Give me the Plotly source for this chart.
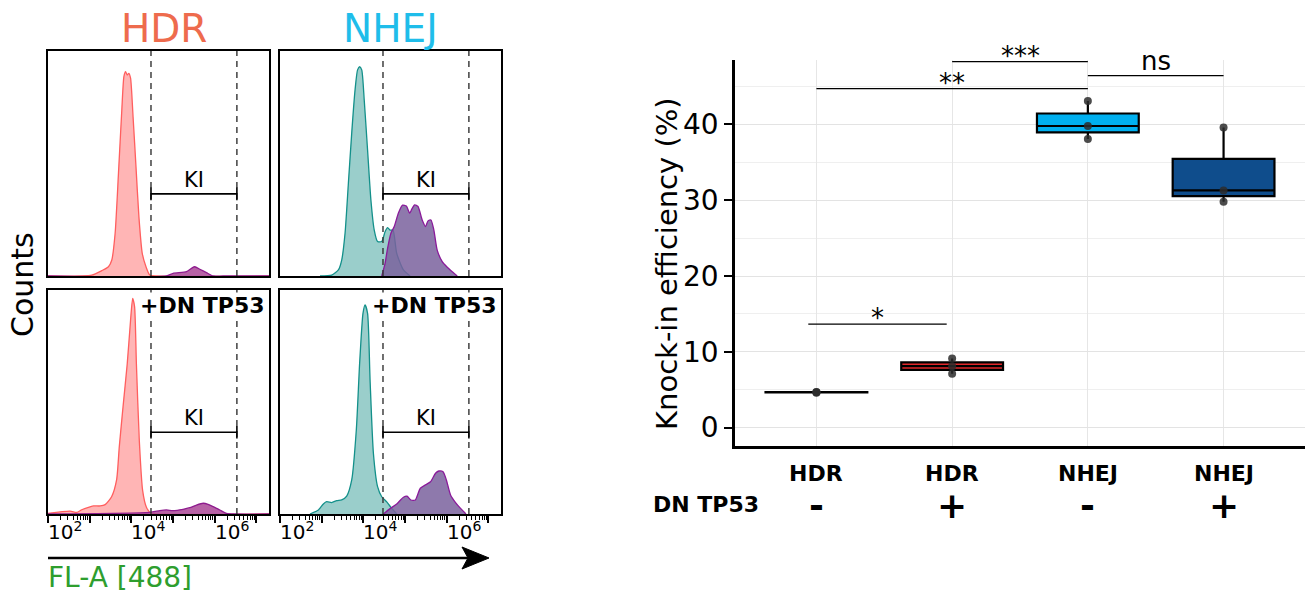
import numpy as np
import plotly.graph_objects as go

W, H = 1309, 598

# ---------------- Flow histograms (x = log10 FL-A [488], y = relative counts) ----------------
hdr_neg_logx = [2.0, 3.05, 3.29, 3.45, 3.53, 3.61, 3.69, 3.77, 3.82, 3.86, 3.90, 3.94, 3.98, 4.04, 4.11, 4.18, 4.26, 4.35, 4.44, 4.6, 7.3]
hdr_neg_cnt = [0, 0.4, 2.4, 4.1, 7.1, 19, 45.6, 73.8, 88.6, 90.8, 89.3, 90.1, 87.9, 70.8, 48.6, 26.4, 10.1, 4.1, 0.4, 0, 0]
hdr_pos_logx = [2.0, 4.84, 5.0, 5.32, 5.44, 5.52, 5.64, 5.80, 5.96, 6.2, 7.3]
hdr_pos_cnt = [0, 0, 1.2, 1.9, 3.4, 4.1, 3.0, 1.5, 0, 0, 0]

nhej_neg_logx = [2.96, 3.24, 3.40, 3.48, 3.56, 3.64, 3.72, 3.80, 3.86, 3.91, 3.96, 4.02, 4.10, 4.18, 4.26, 4.34, 4.44, 4.52, 4.58, 4.64, 4.71, 4.80, 4.96, 5.12]
nhej_neg_cnt = [0, 0.4, 2.7, 7.1, 19, 41.2, 63.5, 82.7, 91.6, 93.0, 91.6, 78.2, 56, 33.8, 20.4, 15.3, 15.3, 19.7, 21.5, 20.4, 20.4, 10, 2.7, 0]
nhej_pos_logx = [4.44, 4.52, 4.58, 4.66, 4.74, 4.84, 4.94, 5.03, 5.11, 5.16, 5.23, 5.31, 5.41, 5.49, 5.55, 5.62, 5.69, 5.77, 5.89, 6.00, 6.13, 6.25]
nhej_pos_cnt = [0, 5.6, 12.3, 19, 22, 28, 31.5, 31.1, 27.9, 29.7, 31.6, 30.9, 24.9, 22, 24.5, 24.9, 20.4, 11.5, 6.4, 4.1, 1.9, 0]

hdr_dn_neg_logx = [2.0, 2.53, 2.69, 2.81, 2.97, 3.09, 3.25, 3.37, 3.525, 3.645, 3.71, 3.80, 3.90, 3.98, 4.03, 4.076, 4.12, 4.19, 4.27, 4.36, 4.46, 4.6, 7.3]
hdr_dn_neg_cnt = [0.3, 1.3, 0.7, 1.9, 3.0, 3.6, 3.6, 4.2, 7.7, 15.2, 30.1, 48, 67, 86.5, 96.3, 92.6, 67, 32.7, 10.4, 3.0, 0.5, 0, 0]
hdr_dn_pos_logx = [2.0, 4.44, 4.68, 4.84, 5.0, 5.24, 5.40, 5.56, 5.72, 5.84, 5.96, 6.12, 6.28, 6.5, 7.3]
hdr_dn_pos_cnt = [0, 0.7, 1.5, 1.8, 1.5, 2.1, 2.8, 4.0, 4.8, 4.3, 3.3, 1.8, 0.3, 0, 0]

nhej_dn_neg_logx = [2.72, 2.92, 3.04, 3.12, 3.24, 3.36, 3.48, 3.60, 3.72, 3.83, 3.91, 3.99, 4.04, 4.10, 4.16, 4.24, 4.34, 4.44, 4.56, 4.68, 4.80]
nhej_dn_neg_cnt = [0, 1.8, 4.5, 5.5, 5.1, 6.0, 6.3, 8.0, 15.2, 37.5, 67.3, 89.6, 93.3, 89.6, 59.8, 27.1, 12.2, 7.7, 5.4, 2.5, 0]
nhej_dn_pos_logx = [4.48, 4.64, 4.80, 4.96, 5.045, 5.14, 5.245, 5.365, 5.49, 5.61, 5.73, 5.81, 5.91, 5.99, 6.09, 6.21, 6.33, 6.46]
nhej_dn_pos_cnt = [0, 2.4, 4.5, 7.5, 8.0, 6.25, 6.25, 11.5, 13.0, 14.4, 18.2, 19.2, 18.9, 15.2, 8.5, 5.1, 2.5, 0]

gate_lo_log = 4.47
gate_hi_log = 6.53
ki_level = 36.5
hist_tick_labels = ["10<sup>2</sup>", "10<sup>4</sup>", "10<sup>6</sup>"]
hist_tick_logs = [2, 4, 6]

# ---------------- Knock-in efficiency box plot ----------------
method = ["HDR", "HDR", "NHEJ", "NHEJ"]
dn_tp53 = ["-", "+", "-", "+"]
ki_values = [
    [4.6, 4.65, 4.7],
    [7.1, 8.1, 9.1],
    [38.1, 39.8, 43.1],
    [29.8, 31.3, 39.6],
]
box_colors = ["#E8735A", "#E0282B", "#00B0F0", "#0F4D8C"]
comparisons = [  # (group a, group b, bar height, label)
    (0.94, 1.96, 13.66, "*"),
    (1, 3, 44.73, "**"),
    (2, 3, 48.3, "***"),
    (3, 4, 46.44, "ns"),
]

FONT = "DejaVu Sans"

def fx(p):
    return p / W

def fy(p):
    return 1 - p / H

fig = go.Figure()

RED_FILL, RED_LINE = "rgba(255,150,150,0.7)", "#FF5E5E"
TEAL_FILL, TEAL_LINE = "rgba(120,190,185,0.75)", "#13908A"
PUR_FILL_H, PUR_LINE_H = "rgba(170,70,150,0.85)", "#8E1C8E"
PUR_FILL_N, PUR_LINE_N = "rgba(122,98,158,0.85)", "#8A1A9A"

panels = [
    ("x", "y", hdr_neg_logx, hdr_neg_cnt, RED_FILL, RED_LINE, hdr_pos_logx, hdr_pos_cnt, PUR_FILL_H, PUR_LINE_H),
    ("x2", "y2", nhej_neg_logx, nhej_neg_cnt, TEAL_FILL, TEAL_LINE, nhej_pos_logx, nhej_pos_cnt, PUR_FILL_N, PUR_LINE_N),
    ("x3", "y3", hdr_dn_neg_logx, hdr_dn_neg_cnt, RED_FILL, RED_LINE, hdr_dn_pos_logx, hdr_dn_pos_cnt, PUR_FILL_H, PUR_LINE_H),
    ("x4", "y4", nhej_dn_neg_logx, nhej_dn_neg_cnt, TEAL_FILL, TEAL_LINE, nhej_dn_pos_logx, nhej_dn_pos_cnt, PUR_FILL_N, PUR_LINE_N),
]

annotations = []
for xa, ya, nx, ny, nf, nl, px_, py_, pf, pl in panels:
    fig.add_trace(go.Scatter(x=10 ** np.array(nx), y=ny, mode="lines", fill="tozeroy",
                             fillcolor=nf, line=dict(color=nl, width=1.3, shape="spline", smoothing=0.6),
                             xaxis=xa, yaxis=ya, showlegend=False, hoverinfo="skip"))
    fig.add_trace(go.Scatter(x=10 ** np.array(px_), y=py_, mode="lines", fill="tozeroy",
                             fillcolor=pf, line=dict(color=pl, width=1.3, shape="spline", smoothing=0.6),
                             xaxis=xa, yaxis=ya, showlegend=False, hoverinfo="skip"))
    for g in (gate_lo_log, gate_hi_log):
        fig.add_trace(go.Scatter(x=[10 ** g, 10 ** g], y=[0, 100], mode="lines",
                                 line=dict(color="#333333", width=1.4, dash="6px,5px"),
                                 xaxis=xa, yaxis=ya, showlegend=False, hoverinfo="skip"))
    fig.add_trace(go.Scatter(x=[10 ** gate_lo_log, 10 ** gate_hi_log], y=[ki_level, ki_level],
                             mode="lines+markers", line=dict(color="black", width=1.6),
                             marker=dict(symbol="line-ns", size=9, line=dict(color="black", width=1.6)),
                             xaxis=xa, yaxis=ya, showlegend=False, hoverinfo="skip"))
    annotations.append(dict(x=(gate_lo_log + gate_hi_log) / 2, y=ki_level, xref=xa, yref=ya,
                            text="KI", showarrow=False, yanchor="bottom", xanchor="center",
                            font=dict(family=FONT, size=21, color="black")))

# Box plot
for i, vals in enumerate(ki_values):
    fig.add_trace(go.Box(x=[i + 1] * len(vals), y=vals, width=0.75, boxpoints="all", jitter=0,
                         pointpos=0, quartilemethod="inclusive", whiskerwidth=0,
                         fillcolor=box_colors[i], line=dict(color="black", width=2.2),
                         marker=dict(color="rgba(45,45,45,0.85)", size=8),
                         xaxis="x5", yaxis="y5", showlegend=False))

shapes = []
for a, b, h, lab in comparisons:
    shapes.append(dict(type="line", xref="x5", yref="y5", x0=a, x1=b, y0=h, y1=h,
                       line=dict(color="black", width=1.3)))
    annotations.append(dict(x=(a + b) / 2, y=h, xref="x5", yref="y5", text=lab, showarrow=False,
                            xanchor="center", yanchor="bottom", yshift=(-2 if lab == "ns" else -11),
                            font=dict(family=FONT, size=26, color="black")))

# Category labels for box plot
for i in range(4):
    annotations.append(dict(x=i + 1, y=fy(473), xref="x5", yref="paper", text="<b>%s</b>" % method[i],
                            xanchor="center", yanchor="middle", showarrow=False,
                            font=dict(family=FONT, size=22, color="black")))
    annotations.append(dict(x=i + 1, y=fy(505), xref="x5", yref="paper", text="<b>%s</b>" % dn_tp53[i],
                            xanchor="center", yanchor="middle", showarrow=False,
                            font=dict(family=FONT, size=36, color="black")))
annotations.append(dict(x=fx(651), y=fy(504), xref="paper", yref="paper", text="<b>DN TP53</b>",
                        xanchor="left", yanchor="middle", showarrow=False,
                        font=dict(family=FONT, size=22, color="black")))
annotations.append(dict(x=fx(667), y=fy(264), xref="paper", yref="paper", text="Knock-in efficiency (%)",
                        xanchor="center", yanchor="middle", textangle=-90, showarrow=False,
                        font=dict(family=FONT, size=29, color="black")))

# Histogram panel labels
annotations.append(dict(x=fx(164), y=fy(29), xref="paper", yref="paper", text="HDR", showarrow=False,
                        xanchor="center", yanchor="middle", font=dict(family=FONT, size=39, color="#EE6B4D")))
annotations.append(dict(x=fx(390), y=fy(29), xref="paper", yref="paper", text="NHEJ", showarrow=False,
                        xanchor="center", yanchor="middle", font=dict(family=FONT, size=39, color="#1FBDEA")))
annotations.append(dict(x=fx(22), y=fy(285), xref="paper", yref="paper", text="Counts", textangle=-90,
                        xanchor="center", yanchor="middle", showarrow=False,
                        font=dict(family=FONT, size=30, color="black")))
annotations.append(dict(x=fx(46), y=fy(577), xref="paper", yref="paper", text="FL-A [488]", xanchor="left",
                        yanchor="middle", showarrow=False, font=dict(family=FONT, size=28, color="#2E9E2E")))
for xa, ya in (("x3", "y3"), ("x4", "y4")):
    annotations.append(dict(x=0.985, y=0.99, xref=xa + " domain", yref=ya + " domain",
                            text="<b>+DN TP53</b>", xanchor="right", yanchor="top", showarrow=False,
                            bgcolor="white", borderpad=0,
                            font=dict(family=FONT, size=22, color="black")))
    for lab, lg in zip(hist_tick_labels, hist_tick_logs):
        annotations.append(dict(x=lg, y=fy(516), xref=xa, yref="paper", text=lab, xanchor="left",
                                yanchor="top", showarrow=False, xshift=-2,
                                font=dict(family=FONT, size=20, color="black")))

# Arrow under the histograms
shapes.append(dict(type="line", xref="paper", yref="paper", x0=fx(48), x1=fx(470), y0=fy(558), y1=fy(558),
                   line=dict(color="black", width=2.5)))
shapes.append(dict(type="path", xref="paper", yref="paper",
                   path="M %f,%f L %f,%f L %f,%f L %f,%f Z" % (fx(462), fy(547), fx(489), fy(558),
                                                             fx(462), fy(569), fx(468), fy(558)),
                   fillcolor="black", line=dict(color="black", width=1)))

hist_x_common = dict(type="log", range=[2, 7.3], showline=True, mirror=True, linecolor="black",
                     linewidth=2, showgrid=False, zeroline=False, showticklabels=False)
hist_y_common = dict(range=[0, 100], showline=True, mirror=True, linecolor="black", linewidth=2,
                     showgrid=False, zeroline=False, showticklabels=False, ticks="")
bottom_ticks = dict(ticks="outside", ticklen=7, tickwidth=1.5, tickcolor="black", dtick=1,
                    minor=dict(ticks="outside", ticklen=4, tickwidth=1, tickcolor="black", dtick="D1"))

layout = dict(
    width=W, height=H, margin=dict(l=0, r=0, t=0, b=0), paper_bgcolor="white", plot_bgcolor="white",
    showlegend=False,
    xaxis=dict(domain=[fx(48), fx(269)], anchor="y", ticks="", **hist_x_common),
    yaxis=dict(domain=[fy(276), fy(51)], anchor="x", **hist_y_common),
    xaxis2=dict(domain=[fx(280), fx(501)], anchor="y2", ticks="", **hist_x_common),
    yaxis2=dict(domain=[fy(276), fy(51)], anchor="x2", **hist_y_common),
    xaxis3=dict(domain=[fx(48), fx(269)], anchor="y3", **hist_x_common, **bottom_ticks),
    yaxis3=dict(domain=[fy(514), fy(290)], anchor="x3", **hist_y_common),
    xaxis4=dict(domain=[fx(280), fx(501)], anchor="y4", **hist_x_common, **bottom_ticks),
    yaxis4=dict(domain=[fy(514), fy(290)], anchor="x4", **hist_y_common),
    xaxis5=dict(domain=[fx(735), fx(1305)], anchor="y5", range=[0.4, 4.6], tickvals=[1, 2, 3, 4],
                showticklabels=False, ticks="", showgrid=True, gridcolor="#E6E6E6", gridwidth=1,
                showline=True, linecolor="black", linewidth=2.5, zeroline=False),
    yaxis5=dict(domain=[fy(446), fy(60.1)], anchor="x5", range=[-2.44, 48.5], tickvals=[0, 10, 20, 30, 40],
                ticks="outside", ticklen=8, tickwidth=2, tickcolor="black",
                tickfont=dict(family=FONT, size=28, color="black"),
                showgrid=True, gridcolor="#E3E3E3", gridwidth=1,
                minor=dict(tick0=0, dtick=5, showgrid=True, gridcolor="#EFEFEF", gridwidth=1),
                showline=True, linecolor="black", linewidth=2.5, zeroline=False),
    annotations=annotations,
    shapes=shapes,
)
fig.update_layout(**layout)
fig.write_html("out.html", config={"displayModeBar": False},
               post_script="document.body.style.margin='0px';")
